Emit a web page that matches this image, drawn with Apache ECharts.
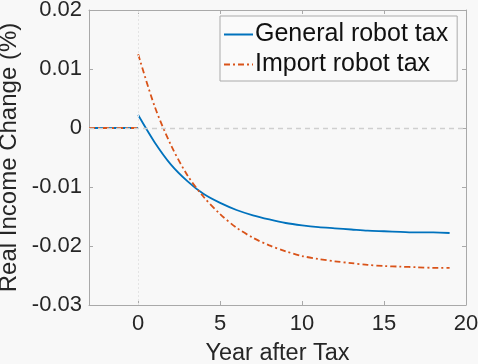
<!DOCTYPE html>
<html>
<head>
<meta charset="utf-8">
<script src="https://cdn.jsdelivr.net/npm/echarts@6/dist/echarts.min.js"></script>
<style>
  html, body { margin: 0; padding: 0; background: #f8f8f8; }
  #chart { width: 478px; height: 364px; }
</style>
</head>
<body>
<div id="chart"></div>
<script>
// Years before the tax is introduced (flat at zero)
const preYears = [-3, -2, -1, 0];
const preValues = [0, 0, 0, 0];

// Years after the tax
const years = [0, 1, 2, 3, 4, 5, 6, 7, 8, 9, 10, 11, 12, 13, 14, 15, 16, 17, 18, 19];

// Real income change (%) under each policy
const generalTax = [0.0022, -0.0024, -0.0062, -0.0090, -0.0112, -0.0127, -0.0139, -0.0148, -0.0155, -0.0161,
                    -0.0165, -0.0168, -0.0170, -0.0172, -0.0174, -0.0175, -0.0176, -0.0177, -0.0177, -0.0178];
const importTax  = [0.0125, 0.0037, -0.0029, -0.0080, -0.0117, -0.0146, -0.0169, -0.0186, -0.0199, -0.0209,
                    -0.0217, -0.0222, -0.0226, -0.0229, -0.0232, -0.0234, -0.0235, -0.0236, -0.0237, -0.0237];

const seriesNames = ['General robot tax', 'Import robot tax'];

const xTicks = [0, 5, 10, 15, 20];
const yTicks = [-0.03, -0.02, -0.01, 0, 0.01, 0.02];
const yTickLabels = ['-0.03', '-0.02', '-0.01', '0', '0.01', '0.02'];

const FONT = '"Liberation Sans", Arial, Helvetica, sans-serif';
const BLUE = '#0072BD';
const ORANGE = '#D95319';
const AXIS = '#a9a9a9';
const TEXT = '#262626';
const DASHDOT = [6, 3, 2, 3];

const pairs = (xs, ys) => xs.map((x, i) => [x, ys[i]]);

function yLabel(v) {
  let best = 0;
  for (let i = 1; i < yTicks.length; i++) {
    if (Math.abs(yTicks[i] - v) < Math.abs(yTicks[best] - v)) best = i;
  }
  return yTickLabels[best];
}

const chart = echarts.init(document.getElementById('chart'), null, { renderer: 'canvas' });

const baseX = {
  type: 'value', min: -3, max: 20,
  axisLine: { show: true, onZero: false, lineStyle: { color: AXIS, width: 1 } },
  splitLine: { show: false }
};
const baseY = {
  type: 'value', min: -0.03, max: 0.02, interval: 0.01,
  axisLine: { show: true, onZero: false, lineStyle: { color: AXIS, width: 1 } },
  splitLine: { show: false }
};

chart.setOption({
  backgroundColor: '#f8f8f8',
  animation: false,
  textStyle: { fontFamily: FONT },
  grid: { left: 89, right: 12, top: 10, bottom: 59, containLabel: false, outerBoundsMode: 'none' },
  legend: {
    data: seriesNames,
    orient: 'vertical',
    left: 220, top: 16,
    padding: [6, 9, 4, 3],
    itemGap: 5,
    itemWidth: 29,
    itemHeight: 20,
    backgroundColor: '#fafafa',
    borderColor: '#aaaaaa',
    borderWidth: 1,
    borderRadius: 0,
    itemStyle: { opacity: 0 },
    textStyle: { fontFamily: FONT, fontSize: 25, lineHeight: 25, color: '#111', padding: [0, 0, 0, -3] }
  },
  xAxis: [
    Object.assign({}, baseX, {
      position: 'bottom',
      name: 'Year after Tax', nameLocation: 'middle', nameGap: 37,
      nameTextStyle: { fontFamily: FONT, fontSize: 23.5, color: TEXT },
      axisTick: { show: true, inside: true, length: 4, customValues: xTicks, lineStyle: { color: AXIS } },
      axisLabel: { show: true, customValues: xTicks, margin: 8, fontSize: 22, color: TEXT, fontFamily: FONT }
    }),
    Object.assign({}, baseX, {
      position: 'top',
      axisTick: { show: true, inside: true, length: 4, customValues: xTicks, lineStyle: { color: AXIS } },
      axisLabel: { show: false }
    })
  ],
  yAxis: [
    Object.assign({}, baseY, {
      position: 'left',
      name: 'Real Income Change (%)', nameLocation: 'middle', nameGap: 61,
      nameTextStyle: { fontFamily: FONT, fontSize: 24, color: TEXT },
      axisTick: { show: true, inside: true, length: 4, lineStyle: { color: AXIS } },
      axisLabel: { show: true, margin: 7, fontSize: 22, color: TEXT, fontFamily: FONT, formatter: yLabel }
    }),
    Object.assign({}, baseY, {
      position: 'right',
      axisTick: { show: true, inside: true, length: 4, lineStyle: { color: AXIS } },
      axisLabel: { show: false }
    })
  ],
  series: [
    {
      // reference lines at zero
      name: 'ref', type: 'line', data: [], silent: true,
      markLine: {
        symbol: 'none', silent: true, label: { show: false },
        data: [
          { xAxis: 0, lineStyle: { color: '#e4e4e4', type: [2, 2], width: 1 } },
          { yAxis: 0, lineStyle: { color: '#cfcfcf', type: [5, 4], width: 1.3 } }
        ]
      }
    },
    {
      name: 'pre-general', type: 'line', data: pairs(preYears, preValues),
      symbol: 'none', lineStyle: { color: BLUE, width: 1.8 }, z: 3
    },
    {
      name: 'pre-import', type: 'line', data: pairs(preYears, preValues),
      symbol: 'none', lineStyle: { color: ORANGE, width: 1.8, type: DASHDOT }, z: 4
    },
    {
      name: seriesNames[0], type: 'line', data: pairs(years, generalTax),
      symbol: 'none', smooth: 0.3,
      color: BLUE, lineStyle: { color: BLUE, width: 1.8 }, z: 3
    },
    {
      name: seriesNames[1], type: 'line', data: pairs(years, importTax),
      symbol: 'none', smooth: 0.3,
      color: ORANGE, lineStyle: { color: ORANGE, width: 1.8, type: DASHDOT }, z: 4
    }
  ]
});
</script>
</body>
</html>
